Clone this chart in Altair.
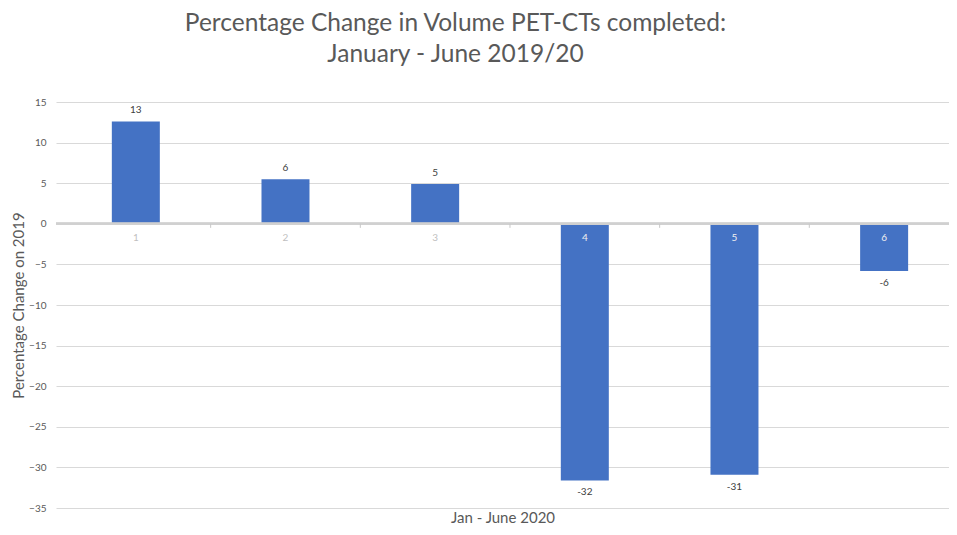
import altair as alt
import pandas as pd

months = [1, 2, 3, 4, 5, 6]
pct_change = [12.6, 5.5, 4.9, -31.6, -30.9, -5.8]
value_labels = ["13", "6", "5", "-32", "-31", "-6"]
y_ticks = [15, 10, 5, 0, -5, -10, -15, -20, -25, -30, -35]

df = pd.DataFrame({"month": months, "pct": pct_change, "lbl": value_labels})
df["mlabel"] = df["month"].astype(str)

FONT = "Lato"
GRAY = "#595959"
H = 406

xscale = alt.Scale(domain=[0.5, 6.4], nice=False, zero=False)
yscale = alt.Scale(domain=[-35, 15], nice=False)

base = alt.Chart(df)

bars = base.mark_bar(color="#4472C4", size=48).encode(
    x=alt.X("month:Q", scale=xscale,
            axis=alt.Axis(title="Jan - June 2020", labels=False, ticks=False, grid=False,
                          domain=False, titleFont=FONT, titleFontSize=15, titleColor=GRAY,
                          titleFontWeight="normal", titlePadding=2)),
    y=alt.Y("pct:Q", scale=yscale,
            axis=alt.Axis(title="Percentage Change on 2019", values=y_ticks, grid=True,
                          gridColor="#d9d9d9", domain=False, ticks=False, labelFont=FONT,
                          labelFontSize=10, labelColor=GRAY, labelPadding=10,
                          titleFont=FONT, titleFontSize=15, titleColor=GRAY,
                          titleFontWeight="normal", titleAngle=270, titleX=-38,
                          titleY=H / 2, titleAlign="center", titleBaseline="middle")),
)

zero_line = base.mark_rule(color="#d0d0d0", strokeWidth=2).encode(
    x=alt.value(0), x2=alt.value(893), y=alt.datum(0)
)

bticks = base.transform_calculate(b="datum.month + 0.5").transform_filter(
    "datum.month < 6"
).mark_rule(color="#c8c8c8", strokeWidth=1).encode(
    x=alt.X("b:Q", scale=xscale), y=alt.datum(0), y2=alt.datum(-0.5)
)

cat_labels = base.mark_text(font=FONT, fontSize=10, baseline="middle", dy=14).encode(
    x=alt.X("month:Q", scale=xscale),
    y=alt.datum(0),
    text="mlabel:N",
    color=alt.condition("datum.pct < 0", alt.value("#f0f0f0"), alt.value("#bfbfbf")),
)

val_pos = base.transform_filter("datum.pct >= 0").mark_text(
    font=FONT, fontSize=10, color="#404040", baseline="bottom", dy=-6
).encode(x=alt.X("month:Q", scale=xscale), y=alt.Y("pct:Q", scale=yscale), text="lbl:N")

val_neg = base.transform_filter("datum.pct < 0").mark_text(
    font=FONT, fontSize=10, color="#404040", baseline="top", dy=7
).encode(x=alt.X("month:Q", scale=xscale), y=alt.Y("pct:Q", scale=yscale), text="lbl:N")

chart = alt.layer(bars, zero_line, bticks, cat_labels, val_pos, val_neg).properties(
    width=893,
    height=H,
    autosize=alt.AutoSizeParams(type="none"),
    padding={"left": 48, "top": 94, "right": 0, "bottom": 19},
    title=alt.TitleParams(
        text=["Percentage Change in Volume PET-CTs completed:", "January - June 2019/20"],
        font=FONT, fontSize=24.5, color=GRAY, fontWeight="normal",
        anchor="middle", dx=-47, lineHeight=31, offset=30,
    ),
).configure_view(stroke=None)

chart.save("out.html", embed_options={"renderer": "svg", "actions": False})
